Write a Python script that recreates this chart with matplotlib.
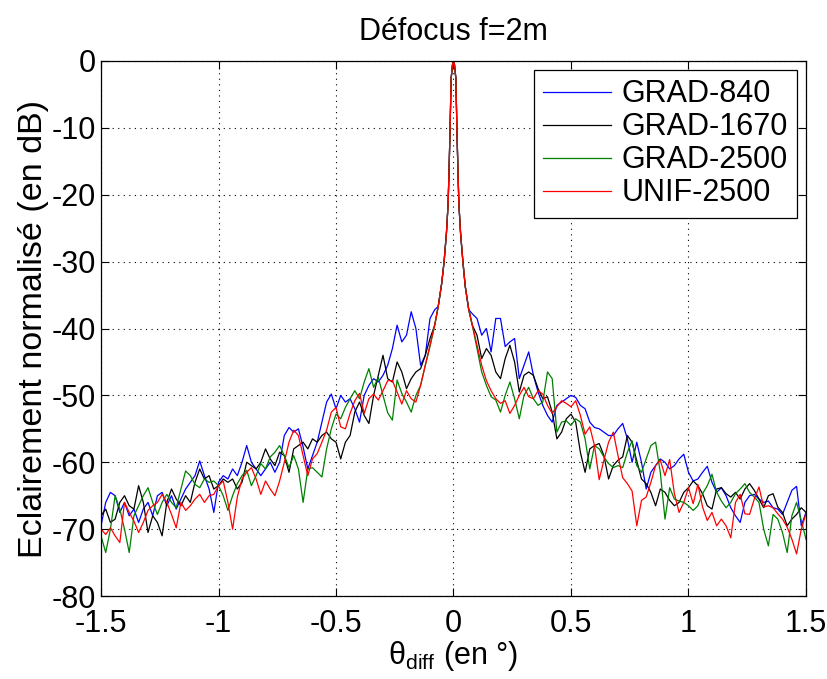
import numpy as np
import matplotlib
matplotlib.use("Agg")
import matplotlib.pyplot as plt

plt.rcParams['font.family'] = ['Liberation Sans', 'DejaVu Sans']
plt.rcParams['axes.unicode_minus'] = False
plt.rcParams['mathtext.fontset'] = 'custom'
plt.rcParams['mathtext.rm'] = 'Liberation Sans'
plt.rcParams['mathtext.it'] = 'Liberation Sans'

title = "Défocus f=2m"
ylabel = "Eclairement normalisé (en dB)"
labels = ["GRAD-840", "GRAD-1670", "GRAD-2500", "UNIF-2500"]
colors = ["#0000ff", "#000000", "#008000", "#ff0000"]

# sample positions (degrees)
x_left = np.round(np.arange(-1.50, -0.07, 0.02), 2)   # -1.50 .. -0.08
x_right = np.round(np.arange(0.08, 1.51, 0.02), 2)    # 0.08 .. 1.50
x_peak = [-0.065, -0.05, -0.04, -0.03, -0.023, -0.019, -0.015, -0.010, -0.004, 0.0,
          0.004, 0.010, 0.015, 0.019, 0.023, 0.03, 0.04, 0.05, 0.065]
peak_db = [-36.7, -33.2, -30.0, -25.7, -21.4, -16.5, -10.8, -2.6, -0.5, 0.0,
           -0.5, -2.6, -10.8, -16.5, -21.4, -25.7, -30.0, -33.7, -37.2]

# ---- GRAD-840 (blue)
blue_left = [-69.5, -66, -64.5, -65, -67.5, -66, -68, -67, -69, -67,
             -66, -68, -65, -64.5, -66.5, -65, -67, -65.5, -64, -63,
             -62, -59.8, -62, -64, -67.5, -63, -62, -62.5, -61, -62,
             -60, -57.5, -60, -61, -62, -61, -60, -61.5, -60, -56,
             -54.8, -55.5, -55, -57.7, -61, -59, -57, -54, -51, -49.8,
             -52, -50, -51, -50.5, -52, -54, -50, -48.5, -47.5, -48,
             -47, -45.5, -43, -39.5, -42, -41, -37.5, -40, -45.5, -44,
             -38.5, -37.2]
blue_right = [-37.8, -38.5, -41, -40, -43.5, -38.5, -38.5, -42.7, -42, -41.5,
              -47.5, -45.5, -43.5, -47, -49.5, -51.5, -53, -54, -51.5, -51,
              -50.5, -50, -50.3, -51.5, -52, -54, -54.8, -55, -55.5, -56,
              -56, -55, -54.2, -56.5, -60, -57, -60, -64, -61.5, -60.5,
              -59.5, -60, -61, -60.5, -59.5, -58.8, -61.5, -62.8, -62.5, -61.5,
              -60.6, -63, -64.5, -63.8, -65, -66.8, -68, -69, -66, -65,
              -64.8, -65.5, -66, -65.8, -66.8, -67, -67.8, -66, -64.2, -63.6,
              -69.5, -67.5]

# ---- GRAD-1670 (black)
black_left = [-68, -67, -69, -68.5, -66, -65, -66.5, -67, -63.5, -66,
              -70.5, -68, -69, -71, -66, -64, -65.5, -66.5, -65, -66,
              -63, -61, -62.5, -62, -64, -63.5, -62.5, -63, -62.5, -64,
              -63, -60, -60.5, -61, -60, -58, -59.5, -60.5, -58.5, -59,
              -61.5, -58, -57.5, -57, -58, -56.5, -57, -56, -55.5, -56.5,
              -57, -59.5, -57, -56, -52.5, -51, -53, -54.2, -50, -47,
              -44, -47.5, -48, -45, -46.5, -49, -47.5, -46.5, -46, -44,
              -41.5, -39.5]
black_right = [-39.5, -41, -44.5, -43, -44, -46.5, -47.5, -44.5, -42.5, -45,
               -49.5, -47, -46.5, -47, -49, -50.5, -50.2, -52.5, -56.5, -55.5,
               -53.5, -52.8, -54, -58.5, -61.5, -58, -57.5, -57.2, -59, -62.5,
               -60.5, -59.7, -59.2, -56, -57, -59.8, -62.5, -63.2, -64.5, -66.5,
               -64, -64.5, -65.7, -66.5, -66, -64.5, -63.8, -62.8, -63.5, -64.7,
               -66.5, -67, -64, -63.8, -64.7, -65.2, -64.5, -65.5, -64, -63.2,
               -64.2, -65.5, -66.8, -65, -64.7, -66.7, -67.5, -69.5, -68.5, -67.8,
               -66.8, -67.5]

# ---- GRAD-2500 (green)
green_left = [-71, -73.5, -70, -65, -67, -70, -73.5, -68, -66.5, -65,
              -63.8, -66, -67.8, -66, -64.8, -66, -66.8, -64, -61.3, -62,
              -63.3, -63.8, -62.5, -63, -62.8, -63.5, -65, -67.2, -65, -63.2,
              -62, -61.2, -63.5, -62, -60.2, -61, -59.2, -58.5, -57.5, -59,
              -60.8, -59, -61, -66, -61, -60.8, -61.5, -62.2, -58, -55,
              -52.8, -53.5, -51.8, -50.5, -49.3, -50.5, -48, -46, -48.8, -47.3,
              -50, -52.6, -53.7, -47.7, -49.7, -51, -52.5, -50, -48.5, -45.5,
              -42.7, -39.5]
green_right = [-39.5, -43, -46.5, -48.5, -50.2, -50.7, -52.5, -50, -48, -50.5,
               -53.5, -50, -48.8, -50.5, -51.5, -51, -46.5, -47.5, -55.5, -54,
               -53.8, -54.5, -53.5, -54, -56.5, -61, -57.5, -58, -59.2, -60.2,
               -60.8, -60.5, -60.8, -58.5, -56.8, -60.5, -61.5, -59.5, -57.5, -57,
               -61.5, -68.5, -63.8, -65.5, -65.8, -66, -66.5, -67.2, -66.5, -64.7,
               -63.5, -61.8, -64.5, -65.8, -66.8, -66, -64.7, -64, -63.2, -64.5,
               -65.2, -66, -70, -72.5, -67.8, -68.5, -70.5, -73.5, -68, -66,
               -68.7, -71.5]

# ---- UNIF-2500 (red)
red_left = [-70, -70.8, -69.8, -71, -72, -66, -67.5, -68.8, -70.5, -69,
            -67.2, -66.5, -66, -64.8, -66, -67.8, -69.8, -66, -67.2, -66.5,
            -65.5, -64.8, -66, -65, -64.8, -63.5, -62.8, -66, -70, -65.2,
            -62.5, -61.5, -60.8, -62.5, -64.8, -62.8, -64, -65, -62.8, -60,
            -57, -55.2, -56, -59, -62, -59.5, -58.7, -57, -55.2, -52.5,
            -51.8, -54.7, -55, -52.7, -50.8, -49.7, -52.7, -50.5, -49.8, -50.7,
            -49.3, -47.8, -47.8, -49.5, -51.3, -49.3, -50.5, -51, -48.5, -45.5,
            -42.5, -39.5]
red_right = [-39.5, -42.5, -45.5, -47.8, -49.3, -50.5, -51.2, -50.8, -52.7, -51.5,
             -50, -48.8, -50.2, -50.5, -49.3, -49.8, -51.5, -52.7, -51.7, -50.8,
             -51.2, -51.7, -50.8, -53, -55.8, -54.7, -57.5, -62.6, -59.7, -57,
             -55.5, -59, -62.3, -63.2, -64.3, -69.5, -65.7, -65.2, -63, -60.5,
             -59.7, -62, -59.6, -64.7, -67.5, -66, -63.8, -66.2, -63.3, -66.7,
             -68.7, -67.5, -69.5, -68.5, -69.5, -71.3, -66, -64.8, -67.7, -67.8,
             -65.5, -63.7, -66.7, -66.5, -66.8, -67.7, -68.5, -69.7, -71.5, -73.7,
             -70, -67.7]

series = [(blue_left, blue_right), (black_left, black_right),
          (green_left, green_right), (red_left, red_right)]

fig = plt.figure(figsize=(8.28, 6.79), dpi=100)
ax = fig.add_axes([0.122, 0.1222, 0.8514, 0.788])

x_all = np.concatenate([x_left, x_peak, x_right])
for (lft, rgt), col, lab in zip(series, colors, labels):
    y_all = np.concatenate([lft, peak_db, rgt])
    ax.plot(x_all, y_all, color=col, lw=0.9, label=lab)

ax.set_xlim(-1.5, 1.5)
ax.set_ylim(-80, 0)
ax.set_xticks([-1.5, -1, -0.5, 0, 0.5, 1, 1.5])
ax.set_xticklabels(["-1.5", "-1", "-0.5", "0", "0.5", "1", "1.5"])
ax.set_yticks(np.arange(-80, 1, 10))
ax.set_yticklabels([str(v) for v in range(-80, 1, 10)])
ax.tick_params(direction='in', length=6, width=0.8, top=True, right=True,
               labelsize=22)
ax.tick_params(axis='y', pad=3.5)
ax.tick_params(axis='x', pad=9.5)
ax.grid(True, color='black', linestyle=(0, (1, 4)), linewidth=0.8)
for s in ax.spines.values():
    s.set_linewidth(0.9)

ax.set_title(title, fontsize=22, pad=15)
ax.set_ylabel(ylabel, fontsize=24.5, labelpad=2)
ax.set_xlabel('θ$_{\\rm diff}$ (en °)', fontsize=22, labelpad=0)

leg = ax.legend(loc='upper right', fontsize=22, fancybox=False, framealpha=1,
                edgecolor='black', handlelength=2.2, borderaxespad=0.3,
                labelspacing=0.1, handletextpad=0.35, borderpad=0.3)
leg.get_frame().set_linewidth(0.9)

fig.savefig("out.png", dpi=100)
